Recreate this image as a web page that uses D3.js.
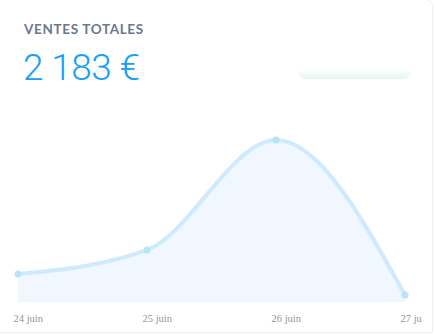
<!DOCTYPE html>
<html>
<head>
<meta charset="utf-8">
<script src="https://cdn.jsdelivr.net/npm/d3@7"></script>
<style>
  html, body { margin: 0; padding: 0; background: #fff; }
  svg { display: block; }
</style>
</head>
<body>
<div id="chart"></div>
<script>
// ventes par jour (EUR)
const days = ["24 juin", "25 juin", "26 juin", "27 juin"];
const sales = [246, 456, 1420, 61];
const title = "VENTES TOTALES";

const width = 435;
const height = 335;

const svg = d3.select("#chart")
    .append("svg")
    .attr("width", width)
    .attr("height", height);

// card
svg.append("path")
    .attr("d", "M-10,332.5 H432.5 V6.5 Q432.5,0.5 426.5,0")
    .attr("fill", "none")
    .attr("stroke", "#eceff4");

svg.append("text")
    .attr("x", 24)
    .attr("y", 34)
    .attr("font-family", "Lato, sans-serif")
    .attr("font-weight", 700)
    .attr("font-size", 13.5)
    .attr("letter-spacing", 0.65)
    .attr("fill", "#6b788e")
    .text(title);

const total = d3.sum(sales);
svg.append("text")
    .attr("x", 23)
    .attr("y", 80)
    .attr("font-family", "Roboto, sans-serif")
    .attr("font-weight", 300)
    .attr("font-size", 37)
    .attr("letter-spacing", -0.6)
    .attr("fill", "#17a0fa")
    .text(d3.format(",")(total).replace(",", " ") + " €");

// faint box top-right
const defs = svg.append("defs");
const grad = defs.append("linearGradient")
    .attr("id", "boxg").attr("x1", 0).attr("x2", 0).attr("y1", 0).attr("y2", 1);
grad.append("stop").attr("offset", "0.45").attr("stop-color", "#ffffff");
grad.append("stop").attr("offset", "1").attr("stop-color", "#e3f6ec");
svg.append("rect")
    .attr("x", 299).attr("y", 62)
    .attr("width", 111).attr("height", 17)
    .attr("rx", 6)
    .attr("fill", "url(#boxg)");

const x = d3.scalePoint()
    .domain(days)
    .range([18, 405]);

const y = d3.scaleLinear()
    .domain([0, 1420])
    .range([302, 140]);

const area = d3.area()
    .x((d, i) => x(days[i]))
    .y0(y(0))
    .y1(d => y(d))
    .curve(d3.curveMonotoneX);

const line = d3.line()
    .x((d, i) => x(days[i]))
    .y(d => y(d))
    .curve(d3.curveMonotoneX);

svg.append("path")
    .datum(sales)
    .attr("d", area)
    .attr("fill", "#f0f7fe");

svg.append("path")
    .datum(sales)
    .attr("d", line)
    .attr("fill", "none")
    .attr("stroke", "#cfeafc")
    .attr("stroke-width", 4);

svg.selectAll("circle.pt")
    .data(sales)
    .enter()
    .append("circle")
    .attr("class", "pt")
    .attr("cx", (d, i) => x(days[i]))
    .attr("cy", d => y(d))
    .attr("r", 3.5)
    .attr("fill", "#b9e2fb");

// x axis labels, clipped by the card edge
const axis = d3.axisBottom(x).tickSize(0).tickPadding(0);
const g = svg.append("g")
    .attr("transform", "translate(0,315)")
    .call(axis);
g.select(".domain").remove();
g.selectAll("text")
    .attr("text-anchor", "start")
    .attr("dx", -5)
    .attr("font-family", "'Liberation Serif', serif")
    .attr("font-size", 10.5)
    .attr("fill", "#8e95a3");

svg.append("rect")
    .attr("x", 422).attr("y", 305)
    .attr("width", 10).attr("height", 27)
    .attr("fill", "#fff");
</script>
</body>
</html>
